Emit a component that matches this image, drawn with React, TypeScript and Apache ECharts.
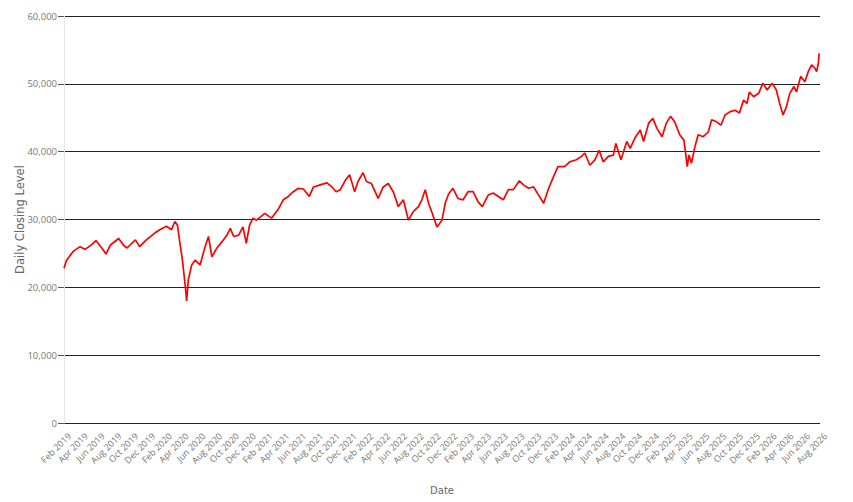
import React, { useEffect, useRef } from 'react';
import * as echarts from 'echarts';

// x = months after 1 Feb 2019
const monthOffset = [
  0.0, 0.3, 1.1, 1.9, 2.5, 3.3, 3.8, 4.5, 5.0, 5.5, 6.5, 7.1, 7.5, 8.5, 9.0, 9.8,
  10.8, 11.4, 12.2, 12.8, 13.2, 13.5, 13.8, 14.1, 14.4, 14.6, 14.8, 15.2, 15.6, 16.2, 16.8, 17.2,
  17.6, 18.2, 18.8, 19.4, 19.8, 20.2, 20.8, 21.3, 21.7, 22.1, 22.5, 22.9, 23.4, 23.9, 24.7, 25.5,
  26.1, 26.7, 27.3, 27.9, 28.5, 29.2, 29.7, 30.5, 31.3, 31.9, 32.4, 32.9, 33.5, 34.0, 34.6, 35.0,
  35.6, 36.0, 36.6, 37.4, 38.0, 38.6, 39.2, 39.8, 40.4, 41.0, 41.6, 42.2, 42.6, 43.0, 43.4, 43.9,
  44.4, 45.0, 45.4, 45.8, 46.3, 46.9, 47.5, 48.1, 48.7, 49.3, 49.8, 50.5, 51.1, 51.7, 52.3, 52.9,
  53.5, 54.2, 54.7, 55.3, 55.9, 56.5, 57.1, 57.7, 58.2, 58.8, 59.6, 60.2, 61.0, 61.6, 62.0, 62.6,
  63.2, 63.7, 64.2, 64.8, 65.4, 65.7, 66.3, 67.0, 67.4, 68.0, 68.6, 69.0, 69.6, 70.1, 70.6, 71.2,
  71.7, 72.2, 72.7, 73.3, 73.8, 74.2, 74.4, 74.7, 75.1, 75.5, 76.1, 76.7, 77.1, 77.7, 78.2, 78.7,
  79.3, 79.9, 80.4, 80.9, 81.3, 81.6, 82.1, 82.7, 83.2, 83.7, 84.3, 84.8, 85.2, 85.6, 86.0, 86.4,
  86.9, 87.2, 87.7, 88.2, 88.6, 89.0, 89.4, 89.6, 89.8, 89.9,
];

const closingLevel = [
  22800, 24000, 25300, 26000, 25600, 26300, 26900, 25800, 24900, 26200, 27200, 26200, 25800, 27000, 26000, 27000,
  28000, 28500, 29000, 28500, 29700, 29200, 26500, 24000, 20600, 18000, 21100, 23300, 24000, 23300, 26000, 27500,
  24500, 25800, 26700, 27700, 28700, 27500, 27700, 28900, 26500, 29200, 30200, 29900, 30400, 30900, 30200, 31500,
  32900, 33400, 34100, 34600, 34500, 33400, 34800, 35100, 35400, 34800, 34100, 34400, 35800, 36600, 34100, 35600,
  36900, 35600, 35300, 33100, 34800, 35300, 34100, 31900, 32900, 29900, 31200, 31900, 32900, 34400, 32400, 30700,
  28900, 29900, 32500, 33800, 34600, 33100, 32900, 34100, 34100, 32600, 31900, 33600, 33900, 33400, 32900, 34400,
  34400, 35700, 35100, 34600, 34800, 33600, 32400, 34600, 36100, 37800, 37800, 38500, 38800, 39300, 39800, 38000,
  38800, 40200, 38500, 39300, 39500, 41200, 38800, 41500, 40500, 42100, 43200, 41500, 44200, 44900, 43400, 42200,
  44200, 45200, 44400, 42500, 41700, 37800, 39500, 38300, 40700, 42500, 42200, 42900, 44700, 44400, 43900, 45400,
  45900, 46100, 45700, 47600, 47100, 48800, 48100, 48600, 50100, 49100, 50100, 49100, 47100, 45400, 46600, 48600,
  49600, 48800, 51100, 50300, 51800, 52800, 52300, 51800, 53000, 54500,
];

const monthNames = ['Jan', 'Feb', 'Mar', 'Apr', 'May', 'Jun', 'Jul', 'Aug', 'Sep', 'Oct', 'Nov', 'Dec'];

const monthLabel = (offset: number) => {
  const m = 1 + Math.round(offset);
  return `${monthNames[m % 12]} ${2019 + Math.floor(m / 12)}`;
};

const App: React.FC = () => {
  const chartRef = useRef<HTMLDivElement>(null);

  useEffect(() => {
    document.body.style.margin = '0';
    if (!chartRef.current) return;
    const chart = echarts.init(chartRef.current, undefined, { renderer: 'svg' });

    const tickFont = 'Open Sans';
    const titleFont = 'DejaVu Sans';
    const option: echarts.EChartsOption = {
      animation: false,
      textStyle: { fontFamily: tickFont },
      grid: { left: 64, right: 33, top: 16, bottom: 79, outerBoundsMode: 'none' } as any,
      xAxis: {
        type: 'value',
        min: 0,
        max: 90,
        interval: 2,
        name: 'Date',
        nameLocation: 'middle',
        nameGap: 62,
        nameMoveOverlap: false,
        nameTextStyle: { color: '#666', fontSize: 10, fontFamily: titleFont },
        axisLine: { show: false },
        axisTick: { show: false },
        splitLine: { show: false },
        axisLabel: {
          rotate: 45,
          margin: 6,
          verticalAlign: 'top',
          padding: [3, 0, 0, 0],
          color: '#777',
          fontSize: 9,
          fontFamily: tickFont,
          formatter: (v: number) => monthLabel(v),
        },
      } as any,
      yAxis: {
        type: 'value',
        min: 0,
        max: 60000,
        interval: 10000,
        name: 'Daily Closing Level',
        nameLocation: 'middle',
        nameGap: 38,
        nameMoveOverlap: false,
        nameTextStyle: { color: '#666', fontSize: 11.5, fontFamily: titleFont },
        axisLine: { show: true, lineStyle: { color: '#e6e6e6', width: 1 } },
        axisTick: { show: true, length: 6, lineStyle: { color: '#555' } },
        splitLine: { show: true, lineStyle: { color: '#222', width: 1 } },
        axisLabel: {
          margin: 7,
          color: '#777',
          fontSize: 9.5,
          fontFamily: tickFont,
          formatter: (v: number) => v.toLocaleString('en-US'),
        },
      } as any,
      series: [
        {
          type: 'line',
          data: monthOffset.map((m, i) => [m, closingLevel[i]]),
          showSymbol: false,
          lineStyle: { color: '#ff0000', width: 1.7 },
          itemStyle: { color: '#ff0000' },
        },
      ],
    };

    chart.setOption(option);
    return () => chart.dispose();
  }, []);

  return <div ref={chartRef} style={{ width: 853, height: 502 }} />;
};

export default App;
